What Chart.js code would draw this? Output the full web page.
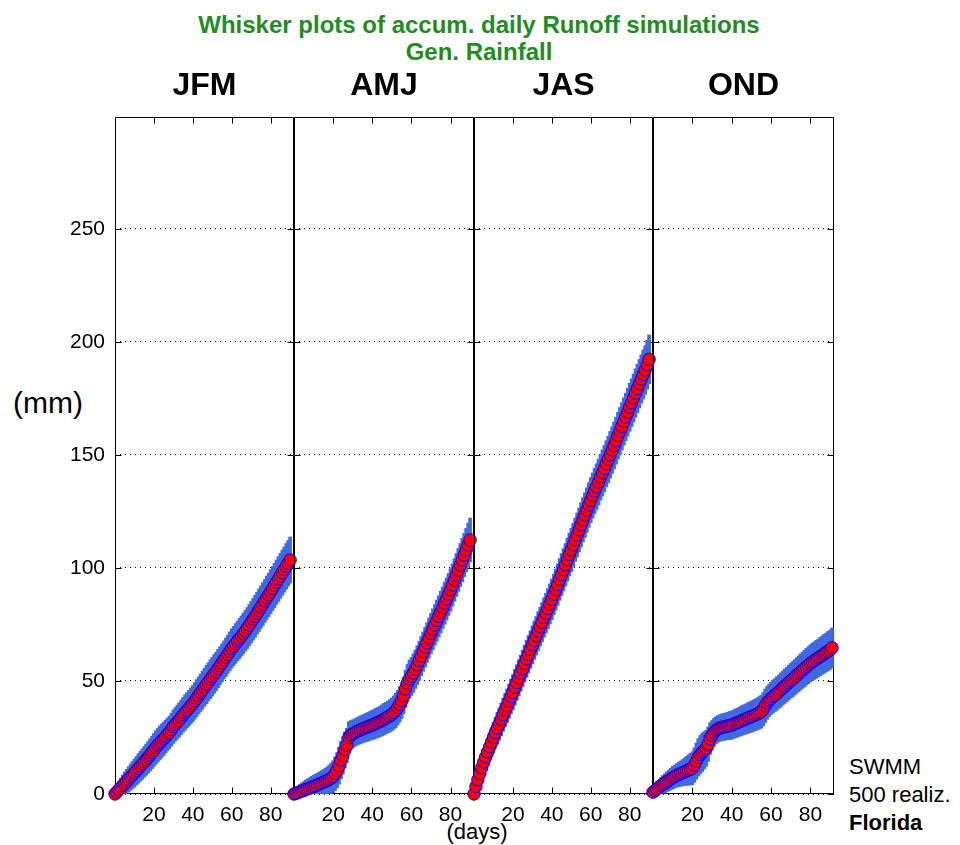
<!DOCTYPE html>
<html>
<head>
<meta charset="utf-8">
<script src="https://cdn.jsdelivr.net/npm/chart.js@4.4.1/dist/chart.umd.min.js"></script>
<style>
  html, body { margin: 0; padding: 0; background: #fff; }
  #page { position: relative; width: 960px; height: 845px; overflow: hidden; font-family: "Liberation Sans", Arial, sans-serif; }
  canvas { position: absolute; }
  .lbl { position: absolute; transform: translate(-50%, -50%); white-space: nowrap; color: #000; }
  .ttl { color: #228b22; font-weight: bold; font-size: 24px; }
  .side { position: absolute; left: 849px; font-size: 22px; line-height: 28px; color: #000; }
</style>
</head>
<body>
<div id="page">
  <div class="lbl ttl" style="left:479px; top:25px;">Whisker plots of accum. daily Runoff simulations</div>
  <div class="lbl ttl" style="left:479px; top:52px;">Gen. Rainfall</div>
  <div class="lbl" style="left:48px; top:403px; font-size:30px;">(mm)</div>
  <div class="lbl" style="left:477px; top:832px; font-size:22px;">(days)</div>
  <div class="side" style="top:753px;">SWMM<br>500 realiz.<br><b>Florida</b></div>
</div>

<script>
/* =========================
   DATA (accumulated runoff, mm)
========================= */
const SEASONS = ["JFM", "AMJ", "JAS", "OND"];
const Y_TICKS = [0, 50, 100, 150, 200, 250];
const X_TICKS = [20, 40, 60, 80];

// median of accumulated runoff, one value per day (day 0 ...)
const JFM_MED = [
  0, 0.9, 1.9, 2.8, 3.8, 4.7, 5.6, 6.5, 7.5, 8.4, 9.3,
  10.3, 11.3, 12.3, 13.2, 14.2, 15.2, 16.2, 17.3, 18.4, 19.5,
  20.6, 21.6, 22.6, 23.5, 24.4, 25.4, 26.4, 27.3, 28.5, 29.8,
  30.8, 31.8, 32.8, 33.9, 35.0, 36.0, 37.0, 38.0, 39.0, 40.0,
  41.2, 42.4, 43.6, 44.8, 46.0, 47.2, 48.4, 49.6, 50.8, 51.9,
  53.1, 54.2, 55.5, 56.8, 58.0, 59.3, 60.5, 61.8, 63.1, 64.4,
  65.5, 66.6, 67.7, 68.8, 69.9, 71.0, 72.2, 73.4, 74.7, 76.0,
  77.3, 78.6, 80.0, 81.3, 82.7, 84.0, 85.4, 86.8, 88.1, 89.5,
  90.9, 92.3, 93.7, 95.1, 96.5, 97.9, 99.3, 100.7, 102.1, 103.5
];
const AMJ_MED = [
  0, 0.3, 0.6, 1.0, 1.3, 1.6, 2.0, 2.3, 2.6, 3.0, 3.3,
  3.7, 4.0, 4.4, 4.8, 5.2, 5.6, 6.0, 6.5, 7.0, 7.7,
  9.0, 10.5, 12.5, 15.0, 17.0, 19.5, 21.5, 25.0, 26.0, 26.6,
  27.1, 27.6, 28.0, 28.4, 28.8, 29.1, 29.5, 29.8, 30.2, 30.5,
  30.9, 31.3, 31.7, 32.1, 32.6, 33.1, 33.6, 34.1, 34.6, 35.2,
  36.0, 37.0, 38.2, 39.6, 41.3, 43.5, 46.5, 49.0, 50.8, 52.0,
  53.5, 55.2, 57.0, 59.0, 61.0, 63.0, 65.0, 67.0, 69.0, 71.0,
  72.9, 74.8, 76.7, 78.6, 80.5, 82.4, 84.4, 86.3, 88.3, 90.3,
  92.5, 94.7, 96.9, 99.1, 101.3, 103.5, 105.7, 107.9, 110.1, 112.4
];
const JAS_MED = [
  0, 3.3, 6.3, 9.1, 11.7, 14.1, 16.4, 18.6, 20.8, 22.9, 25.0,
  27.1, 29.1, 31.0, 33.0, 35.1, 37.1, 39.0, 41.0, 43.1, 45.0,
  47.2, 49.3, 51.4, 53.4, 55.5, 57.7, 59.8, 61.8, 63.9, 66.0,
  68.0, 70.0, 72.1, 74.0, 76.0, 78.1, 80.0, 82.0, 84.1, 86.1,
  88.3, 90.4, 92.6, 94.9, 97.1, 99.2, 101.4, 103.7, 105.9, 108.0,
  110.2, 112.5, 114.6, 116.8, 119.1, 121.3, 123.4, 125.6, 127.9, 130.0,
  132.0, 134.1, 136.0, 138.0, 140.1, 142.0, 144.0, 146.1, 148.0, 150.1,
  152.2, 154.2, 156.3, 158.5, 160.5, 162.6, 164.8, 166.8, 168.9, 171.1,
  173.1, 175.2, 177.4, 179.4, 181.5, 183.6, 185.6, 187.6, 189.9, 192.3
];
const OND_MED = [
  0.8, 1.5, 2.2, 2.9, 3.7, 4.3, 4.8, 5.4, 6.0, 6.6, 7.2,
  7.7, 8.2, 8.6, 9.0, 9.4, 9.8, 10.2, 10.6, 11.0, 11.4,
  12.8, 14.5, 16.2, 17.4, 18.4, 19.3, 20.2, 22.0, 24.5, 26.0,
  27.3, 28.2, 28.8, 29.2, 29.5, 29.7, 29.9, 30.1, 30.3, 30.5,
  30.9, 31.3, 31.6, 32.0, 32.4, 32.8, 33.1, 33.5, 33.9, 34.2,
  34.6, 35.0, 35.4, 35.9, 36.4, 37.5, 39.0, 40.3, 41.4, 42.3,
  43.1, 43.8, 44.5, 45.3, 46.1, 46.9, 47.7, 48.5, 49.3, 50.1,
  50.8, 51.6, 52.4, 53.2, 54.0, 54.8, 55.5, 56.3, 57.0, 57.8,
  58.4, 59.0, 59.6, 60.2, 60.8, 61.4, 62.0, 62.6, 63.2, 63.8, 64.7
];

// whisker half-range around the median, one value per day
const JFM_SPR = [
  2.0, 3.0, 3.6, 4.2, 4.6, 5.0, 5.3, 5.6, 5.8, 6.0, 6.2,
  6.3, 6.5, 6.6, 6.7, 6.8, 6.9, 7.0, 7.1, 7.2, 7.3,
  7.4, 7.4, 7.5, 7.5, 7.4, 7.3, 7.2, 7.2, 7.3, 7.4,
  7.4, 7.5, 7.6, 7.6, 7.7, 7.8, 7.8, 7.9, 8.0, 8.0,
  8.1, 8.2, 8.2, 8.3, 8.4, 8.4, 8.5, 8.5, 8.6, 8.6,
  8.6, 8.5, 8.5, 8.4, 8.4, 8.4, 8.5, 8.5, 8.6, 8.7,
  8.7, 8.8, 8.8, 8.9, 8.9, 9.0, 9.0, 9.1, 9.1, 9.2,
  9.2, 9.3, 9.3, 9.4, 9.4, 9.5, 9.5, 9.6, 9.6, 9.7,
  9.7, 9.8, 9.8, 9.9, 9.9, 10.0, 10.0, 10.1, 10.1, 10.2
];
const AMJ_SPR = [
  1.5, 2.2, 2.8, 3.2, 3.6, 3.9, 4.2, 4.4, 4.6, 4.8, 5.0,
  5.1, 5.2, 5.3, 5.5, 5.6, 5.8, 6.0, 6.3, 6.7, 7.0,
  7.4, 7.8, 8.1, 8.3, 8.3, 8.0, 7.6, 7.0, 6.5, 6.2,
  6.1, 6.1, 6.1, 6.2, 6.2, 6.3, 6.3, 6.4, 6.4, 6.5,
  6.6, 6.7, 6.7, 6.8, 6.9, 7.0, 7.0, 7.1, 7.2, 7.3,
  7.4, 7.6, 7.7, 7.8, 8.0, 8.1, 8.2, 8.3, 8.4, 8.4,
  8.5, 8.5, 8.6, 8.6, 8.7, 8.7, 8.8, 8.8, 8.9, 8.9,
  9.0, 9.0, 9.1, 9.1, 9.2, 9.2, 9.3, 9.3, 9.3, 9.4,
  9.4, 9.4, 9.5, 9.5, 9.5, 9.6, 9.6, 9.6, 9.7, 9.7
];
const JAS_SPR = [
  2.0, 3.2, 4.0, 4.6, 5.1, 5.5, 5.8, 6.1, 6.3, 6.5, 6.7,
  6.8, 7.0, 7.1, 7.2, 7.3, 7.4, 7.5, 7.6, 7.7, 7.8,
  7.9, 7.9, 8.0, 8.0, 8.1, 8.2, 8.2, 8.3, 8.3, 8.4,
  8.5, 8.5, 8.6, 8.6, 8.7, 8.7, 8.8, 8.9, 8.9, 9.0,
  9.0, 9.1, 9.2, 9.2, 9.3, 9.3, 9.4, 9.5, 9.5, 9.6,
  9.6, 9.6, 9.7, 9.7, 9.8, 9.8, 9.9, 9.9, 9.9, 10.0,
  10.0, 10.0, 10.1, 10.1, 10.1, 10.2, 10.2, 10.2, 10.3, 10.3,
  10.3, 10.4, 10.4, 10.4, 10.5, 10.5, 10.5, 10.5, 10.6, 10.6,
  10.6, 10.6, 10.7, 10.7, 10.7, 10.7, 10.8, 10.8, 10.8, 10.8
];
const OND_SPR = [
  1.5, 2.2, 2.8, 3.2, 3.6, 3.9, 4.2, 4.4, 4.6, 4.8, 5.0,
  5.1, 5.2, 5.4, 5.6, 5.8, 6.1, 6.4, 6.7, 7.0, 7.3,
  7.6, 8.0, 8.3, 8.5, 8.5, 8.3, 8.0, 7.6, 7.0, 6.5,
  6.2, 6.0, 5.9, 5.9, 5.9, 6.0, 6.0, 6.1, 6.2, 6.3,
  6.3, 6.4, 6.4, 6.5, 6.6, 6.6, 6.7, 6.8, 6.8, 6.9,
  7.0, 7.0, 7.1, 7.2, 7.3, 7.4, 7.4, 7.3, 7.2, 7.2,
  7.3, 7.3, 7.4, 7.4, 7.5, 7.5, 7.6, 7.6, 7.7, 7.7,
  7.8, 7.8, 7.9, 7.9, 8.0, 8.0, 8.1, 8.1, 8.2, 8.2,
  8.3, 8.3, 8.4, 8.4, 8.5, 8.5, 8.6, 8.6, 8.7, 8.7, 8.8
];

const MEDIANS = [JFM_MED, AMJ_MED, JAS_MED, OND_MED];
const SPREADS = [JFM_SPR, AMJ_SPR, JAS_SPR, OND_SPR];

/* =========================
   LAYOUT (page pixels)
========================= */
const PLOT_LEFT = [115, 294, 474, 653];
const PLOT_RIGHT = [294, 474, 653, 834];
const CANVAS_TOP = 60;
const PAD = 10;

Chart.defaults.font.family = '"Liberation Sans", Arial, sans-serif';
Chart.defaults.color = "#000";

/* =========================
   FRAME + INWARD TICKS
========================= */
const framePlugin = {
  id: "frame",
  beforeDatasetsDraw(chart) {
    const { ctx, chartArea: a, scales } = chart;
    const l = Math.round(a.left) + 0.5, r = Math.round(a.right) - 0.5;
    const t = Math.round(a.top) + 0.5, b = Math.round(a.bottom) - 0.5;
    ctx.save();
    ctx.strokeStyle = "#000";
    ctx.lineWidth = 1;
    ctx.beginPath();
    ctx.rect(l, t, r - l, b - t);
    Y_TICKS.forEach(v => {
      const py = Math.round(scales.y.getPixelForValue(v)) + 0.5;
      ctx.moveTo(l, py); ctx.lineTo(l + 6, py);
      ctx.moveTo(r, py); ctx.lineTo(r - 6, py);
    });
    X_TICKS.forEach(v => {
      const px = Math.round(scales.x.getPixelForValue(v)) + 0.5;
      ctx.moveTo(px, b); ctx.lineTo(px, b - 6);
      ctx.moveTo(px, t); ctx.lineTo(px, t + 6);
    });
    ctx.stroke();
    ctx.restore();
  }
};

/* =========================
   PANELS
========================= */
const page = document.getElementById("page");

SEASONS.forEach((season, p) => {
  const med = MEDIANS[p];
  const spr = SPREADS[p];
  const first = p === 0;

  const leftSpace = first ? PLOT_LEFT[0] : PAD;
  const canvas = document.createElement("canvas");
  canvas.width = leftSpace + (PLOT_RIGHT[p] - PLOT_LEFT[p]) + PAD;
  canvas.height = 768;
  canvas.style.left = (PLOT_LEFT[p] - leftSpace) + "px";
  canvas.style.top = CANVAS_TOP + "px";
  page.appendChild(canvas);

  const whiskers = med.map((v, i) => ({ x: i, y: [Math.max(0, v - spr[i]), v + spr[i]] }));
  const points = med.map((v, i) => ({ x: i, y: v }));

  new Chart(canvas, {
    type: "bar",
    data: {
      datasets: [
        {
          type: "line",
          data: points,
          showLine: false,
          pointRadius: 6.2,
          pointBackgroundColor: "#ff0000",
          pointBorderColor: "#0000ff",
          pointBorderWidth: 1,
          clip: false,
          order: 1
        },
        {
          type: "bar",
          data: whiskers,
          backgroundColor: "#4169e1",
          borderWidth: 0,
          barThickness: 3,
          order: 2
        }
      ]
    },
    options: {
      responsive: false,
      animation: false,
      events: [],
      layout: { padding: { left: first ? 0 : PAD, right: PAD, top: 0, bottom: 0 } },
      plugins: {
        legend: { display: false },
        tooltip: { enabled: false },
        title: {
          display: true,
          text: season,
          fullSize: false,
          font: { size: 32, weight: "bold" },
          padding: { top: 6.8, bottom: 11.8 }
        }
      },
      scales: {
        x: {
          type: "linear",
          min: 0,
          max: 92,
          offset: false,
          grid: { display: false, drawTicks: false },
          border: { display: false },
          ticks: { stepSize: 20, includeBounds: false, padding: 9, font: { size: 21 }, maxRotation: 0 },
          afterBuildTicks: s => { s.ticks = X_TICKS.map(v => ({ value: v })); },
          afterFit: s => { s.height = 34; }
        },
        y: {
          min: 0,
          max: 299.5,
          grid: { color: "#000", lineWidth: 1, drawTicks: false },
          border: { display: false, dash: [1, 4] },
          ticks: { display: first, padding: 10, font: { size: 21 } },
          afterBuildTicks: s => { s.ticks = Y_TICKS.map(v => ({ value: v })); },
          afterFit: s => { s.width = first ? PLOT_LEFT[0] : 0; }
        }
      }
    },
    plugins: [framePlugin]
  });
});
</script>
</body>
</html>
